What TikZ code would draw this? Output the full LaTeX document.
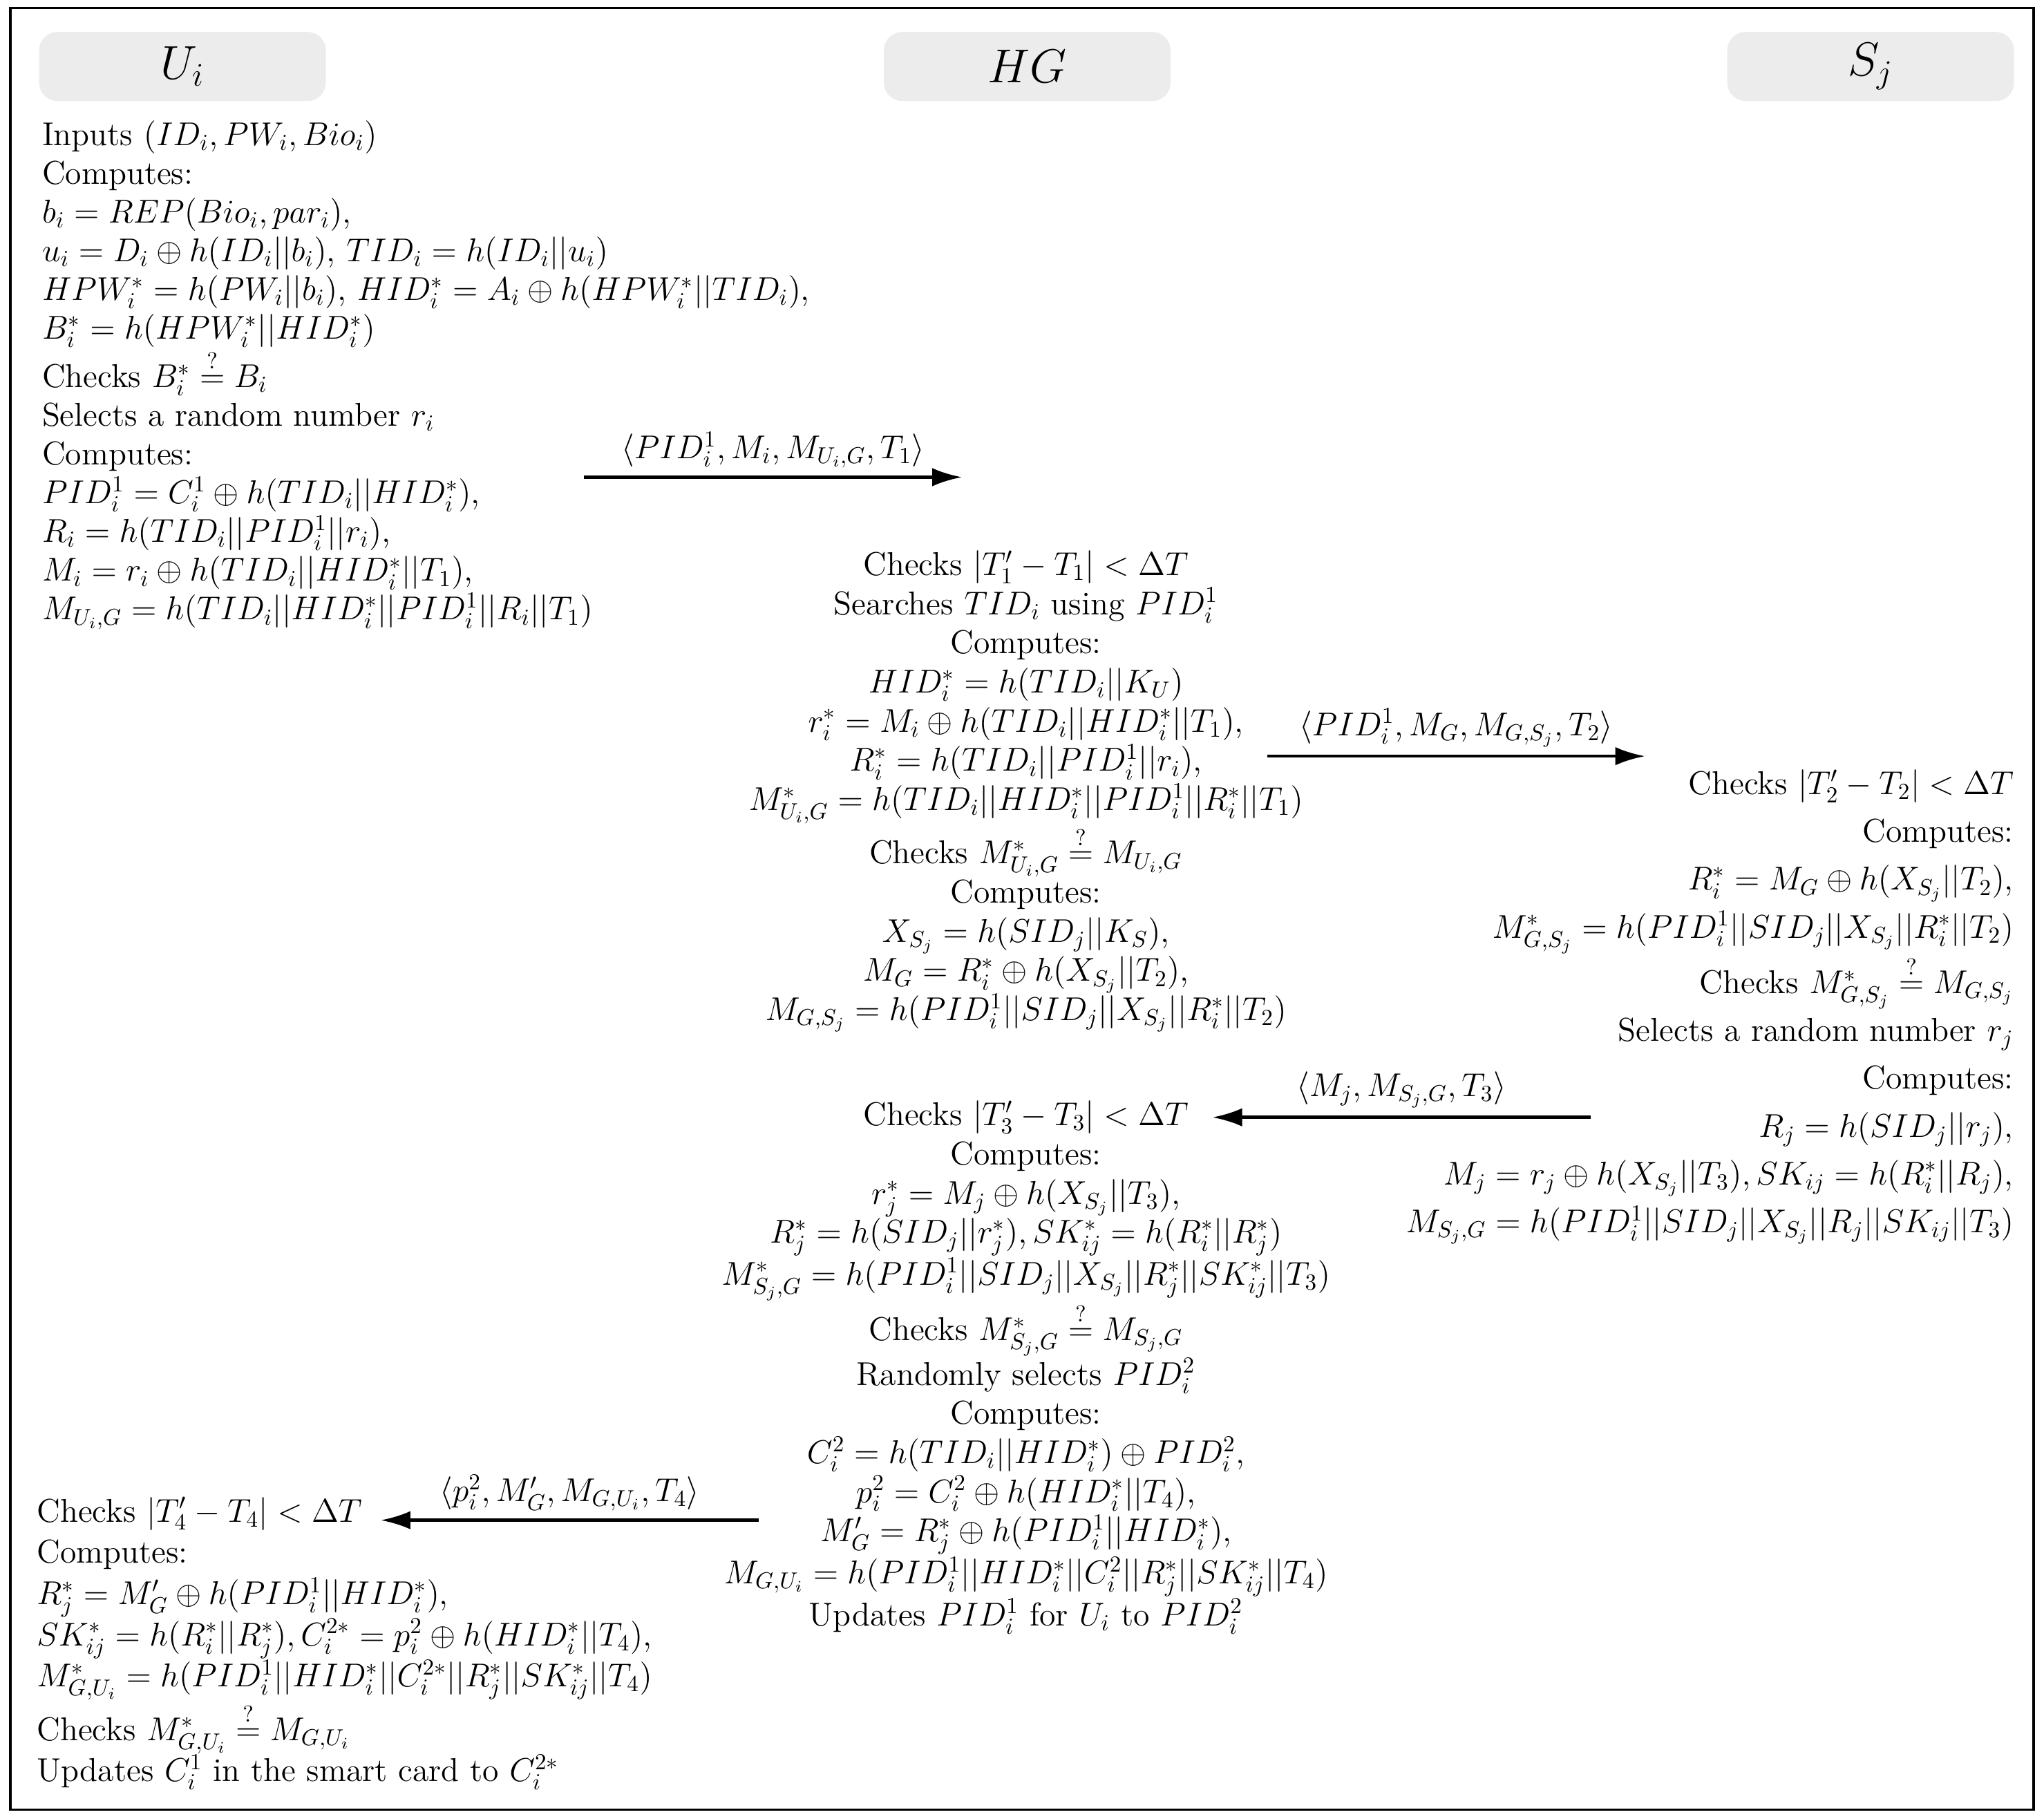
\documentclass[tikz,border=0pt]{standalone}
\usepackage{amsmath}
\usetikzlibrary{positioning,arrows.meta}
\begin{document}
\begin{tikzpicture}[x=0.02cm,y=-0.02cm,
    party/.style={rectangle, rounded corners=8pt, fill=gray!15, minimum width=4.4cm, minimum height=1.06cm, font=\huge},
    stepL/.style={align=left, anchor=north west, inner sep=0pt, font=\linespread{0.94}\Large},
    stepC/.style={align=center, anchor=north, inner sep=0pt, font=\linespread{0.95}\Large},
    stepR/.style={align=right, anchor=north east, inner sep=0pt, font=\linespread{1.16}\Large},
    msg/.style={-{Latex[length=13pt,width=8pt]}, line width=1.4pt}
]
\useasboundingbox (0,0) rectangle (1568,1395);
\draw[line width=1pt] (8,6) rectangle (1560,1388);

% Parties
\node[party] (ui) at (140,51) {$U_i$};
\node[party] (hg) at (788,51) {$HG$};
\node[party] (sj) at (1435,51) {$S_j$};

% U_i: login request
\node[stepL] (ulogin) at (32,92) {Inputs $(ID_i, PW_i, Bio_i)$\\
Computes:\\
$b_i = REP(Bio_i, par_i)$,\\
$u_i = D_i \oplus h(ID_i||b_i)$, $TID_i = h(ID_i||u_i)$\\
$HPW_i^* = h(PW_i||b_i)$, $HID_i^* = A_i \oplus h(HPW_i^*||TID_i)$,\\
$B_i^* = h(HPW_i^*||HID_i^*)$\\
Checks $B_i^* \stackrel{?}{=} B_i$\\
Selects a random number $r_i$\\
Computes:\\
$PID_i^1 = C_i^1 \oplus h(TID_i||HID_i^*)$,\\
$R_i = h(TID_i||PID_i^1||r_i)$,\\
$M_i = r_i \oplus h(TID_i||HID_i^*||T_1)$,\\
$M_{U_i,G} = h(TID_i||HID_i^*||PID_i^1||R_i||T_1)$};

% HG: first step
\node[stepC] (hgone) at (787,422) {Checks $|T_1' - T_1| < \Delta T$\\
Searches $TID_i$ using $PID_i^1$\\
Computes:\\
$HID_i^* = h(TID_i||K_U)$\\
$r_i^* = M_i \oplus h(TID_i||HID_i^*||T_1)$,\\
$R_i^* = h(TID_i||PID_i^1||r_i)$,\\
$M_{U_i,G}^* = h(TID_i||HID_i^*||PID_i^1||R_i^*||T_1)$\\
Checks $M_{U_i,G}^* \stackrel{?}{=} M_{U_i,G}$\\
Computes:\\
$X_{S_j} = h(SID_j||K_S)$,\\
$M_G = R_i^* \oplus h(X_{S_j}||T_2)$,\\
$M_{G,S_j} = h(PID_i^1||SID_j||X_{S_j}||R_i^*||T_2)$};

% S_j
\node[stepR] (sjone) at (1545,590) {Checks $|T_2' - T_2| < \Delta T$\\
Computes:\\
$R_i^* = M_G \oplus h(X_{S_j}||T_2)$,\\
$M_{G,S_j}^* = h(PID_i^1||SID_j||X_{S_j}||R_i^*||T_2)$\\
Checks $M_{G,S_j}^* \stackrel{?}{=} M_{G,S_j}$\\
Selects a random number $r_j$\\
Computes:\\
$R_j = h(SID_j||r_j)$,\\
$M_j = r_j \oplus h(X_{S_j}||T_3), SK_{ij} = h(R_i^*||R_j)$,\\
$M_{S_j,G} = h(PID_i^1||SID_j||X_{S_j}||R_j||SK_{ij}||T_3)$};

% HG: second step
\node[stepC] (hgtwo) at (787,844) {Checks $|T_3' - T_3| < \Delta T$\\
Computes:\\
$r_j^* = M_j \oplus h(X_{S_j}||T_3)$,\\
$R_j^* = h(SID_j||r_j^*), SK_{ij}^* = h(R_i^*||R_j^*)$\\
$M_{S_j,G}^* = h(PID_i^1||SID_j||X_{S_j}||R_j^*||SK_{ij}^*||T_3)$\\
Checks $M_{S_j,G}^* \stackrel{?}{=} M_{S_j,G}$\\
Randomly selects $PID_i^2$\\
Computes:\\
$C_i^2 = h(TID_i||HID_i^*) \oplus PID_i^2$,\\
$p_i^2 = C_i^2 \oplus h(HID_i^*||T_4)$,\\
$M_G' = R_j^* \oplus h(PID_i^1||HID_i^*)$,\\
$M_{G,U_i} = h(PID_i^1||HID_i^*||C_i^2||R_j^*||SK_{ij}^*||T_4)$\\
Updates $PID_i^1$ for $U_i$ to $PID_i^2$};

% U_i: final step
\node[stepL, font=\Large] (ufinal) at (28,1148) {Checks $|T_4' - T_4| < \Delta T$\\
Computes:\\
$R_j^* = M_G' \oplus h(PID_i^1||HID_i^*)$,\\
$SK_{ij}^* = h(R_i^*||R_j^*), C_i^{2*} = p_i^2 \oplus h(HID_i^*||T_4)$,\\
$M_{G,U_i}^* = h(PID_i^1||HID_i^*||C_i^{2*}||R_j^*||SK_{ij}^*||T_4)$\\
Checks $M_{G,U_i}^* \stackrel{?}{=} M_{G,U_i}$\\
Updates $C_i^1$ in the smart card to $C_i^{2*}$};

% Messages
\coordinate (m1a) at (448,366); \coordinate (m1b) at (738,366);
\coordinate (m2a) at (972,580); \coordinate (m2b) at (1262,580);
\coordinate (m3a) at (1220,857); \coordinate (m3b) at (930,857);
\coordinate (m4a) at (582,1166); \coordinate (m4b) at (292,1166);
\draw[msg] (m1a) -- node[above, font=\Large] {$\langle PID_i^1, M_i, M_{U_i,G}, T_1\rangle$} (m1b);
\draw[msg] (m2a) -- node[above, font=\Large] {$\langle PID_i^1, M_G, M_{G,S_j}, T_2\rangle$} (m2b);
\draw[msg] (m3a) -- node[above, font=\Large] {$\langle M_j, M_{S_j,G}, T_3\rangle$} (m3b);
\draw[msg] (m4a) -- node[above, font=\Large] {$\langle p_i^2, M_G', M_{G,U_i}, T_4\rangle$} (m4b);
\end{tikzpicture}
\end{document}
